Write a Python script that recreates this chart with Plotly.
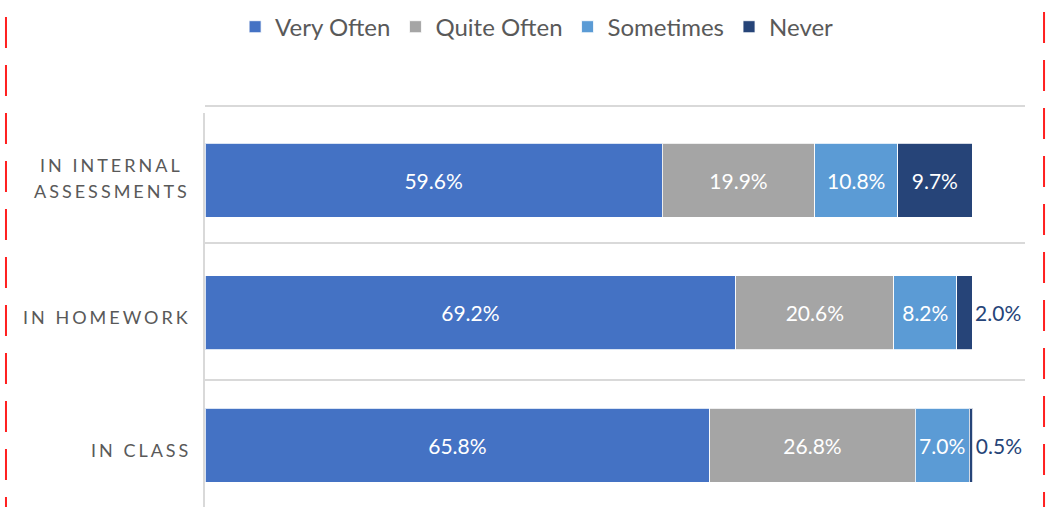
import plotly.graph_objects as go

categories = ["IN CLASS", "IN HOMEWORK", "IN INTERNAL<br>ASSESSMENTS"]
series_names = ["Very Often", "Quite Often", "Sometimes", "Never"]
very_often = [65.8, 69.2, 59.6]
quite_often = [26.8, 20.6, 19.9]
sometimes = [7.0, 8.2, 10.8]
never = [0.5, 2.0, 9.7]
colors = ["#4472C4", "#A5A5A5", "#5B9BD5", "#264478"]

FONT = "Lato, 'Open Sans', sans-serif"
ypos = list(range(len(categories)))

fig = go.Figure()
for name, vals, col in zip(series_names, [very_often, quite_often, sometimes, never], colors):
    if name == "Never":
        tpos = ["outside" if v < 5 else "inside" for v in vals]
    else:
        tpos = ["inside"] * len(vals)
    fig.add_trace(go.Bar(
        name=name, y=ypos, x=vals, orientation="h",
        marker=dict(color=col, line=dict(color="rgba(255,255,255,0.8)", width=1)),
        width=0.558,
        text=[f"{v:.1f}%" for v in vals],
        textposition=tpos,
        insidetextanchor="middle",
        insidetextfont=dict(color="white", size=21, family=FONT),
        outsidetextfont=dict(color="#264478", size=21, family=FONT),
        constraintext="none",
        cliponaxis=False,
        hoverinfo="skip",
    ))

shapes = []
# category separators
for yv in [1.527, 0.493]:
    shapes.append(dict(type="line", xref="paper", yref="y", x0=0, x1=1, y0=yv, y1=yv,
                       line=dict(color="#D9D9D9", width=2), layer="below"))
shapes.append(dict(type="line", xref="paper", yref="paper", x0=0, x1=1, y0=1.0178, y1=1.0178,
                   line=dict(color="#D9D9D9", width=2), layer="below"))
# red dashed frame lines
shapes.append(dict(type="line", xref="paper", yref="paper", x0=-0.2427, x1=-0.2427,
                   y0=1 + (113 + 31) / 394, y1=-0.1,
                   line=dict(color="#FF2020", width=2, dash="31px,17px")))
shapes.append(dict(type="line", xref="paper", yref="paper", x0=1.0232, x1=1.0232,
                   y0=1 + (113 + 36) / 394, y1=-0.1,
                   line=dict(color="#FF2020", width=2, dash="31px,17px")))

LS = "letter-spacing:3px"
annotations = []
for i, c in enumerate(categories):
    lines = c.split("<br>")
    if len(lines) == 1:
        shifts = [-4.5]
    else:
        shifts = [15.5, -10.5]
    for line, ys in zip(lines, shifts):
        annotations.append(dict(
            x=(111.5 - 205) / 820 if len(lines) > 1 else 0,
            xanchor="center" if len(lines) > 1 else "right",
            xshift=0 if len(lines) > 1 else -12,
            y=ypos[i], xref="paper", yref="y", yanchor="middle",
            yshift=ys, showarrow=False,
            text=f'<span style="{LS}">{line}</span>',
            font=dict(family=FONT, size=18, color="#595959"),
        ))

fig.update_layout(
    barmode="stack",
    width=1052, height=507,
    margin=dict(l=205, r=27, t=113, b=0, autoexpand=False),
    paper_bgcolor="white", plot_bgcolor="white",
    font=dict(family=FONT, color="#595959"),
    shapes=shapes,
    annotations=annotations,
    xaxis=dict(range=[0, 106.9], visible=False, fixedrange=True),
    yaxis=dict(range=[-0.466, 2.508], showticklabels=False, showgrid=False, zeroline=False,
               showline=True, linecolor="#D9D9D9", linewidth=2, ticks="", fixedrange=True),
    legend=dict(orientation="h", x=0.405, xanchor="center", y=1.218, yanchor="middle",
                font=dict(family=FONT, size=24, color="#595959"), traceorder="normal",
                itemwidth=30, bgcolor="rgba(0,0,0,0)"),
    uniformtext=dict(minsize=21, mode="show"),
    bargap=0.44,
)

fig.write_html("out.html", config={"displayModeBar": False},
               post_script="document.body.style.margin='0px';")
